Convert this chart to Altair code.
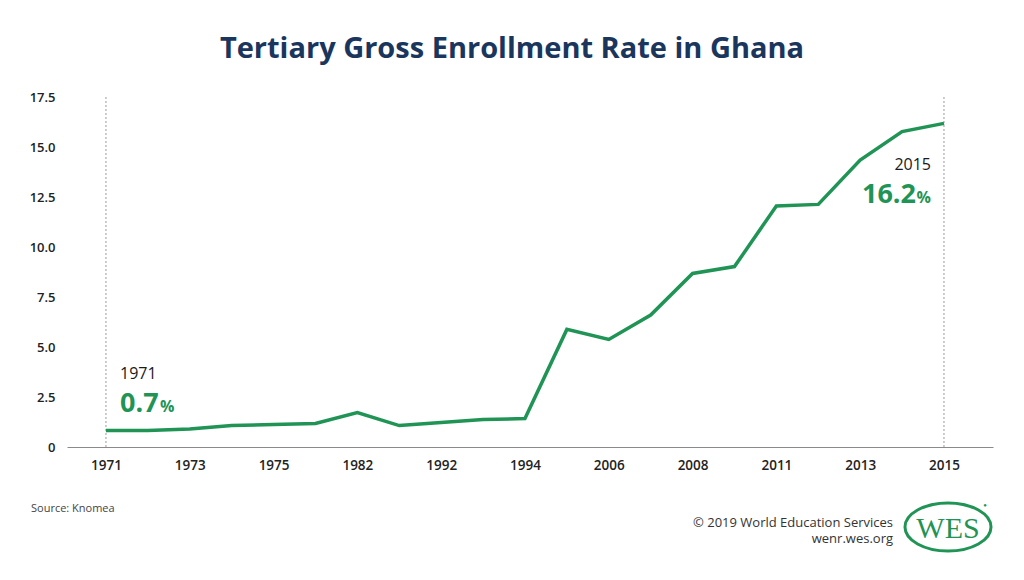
import altair as alt
import pandas as pd

years = ["1971", "1972", "1973", "1974", "1975", "1977", "1982", "1991", "1992", "1993",
         "1994", "1999", "2006", "2007", "2008", "2009", "2011", "2012", "2013", "2014", "2015"]
rates = [0.82, 0.82, 0.9, 1.07, 1.12, 1.18, 1.72, 1.07, 1.23, 1.38,
         1.42, 5.88, 5.38, 6.6, 8.68, 9.02, 12.05, 12.13, 14.35, 15.77, 16.18]
label_years = ["1971", "1973", "1975", "1982", "1992", "1994", "2006", "2008", "2011", "2013", "2015"]
y_ticks = [0, 2.5, 5, 7.5, 10, 12.5, 15, 17.5]
marker_years = ["1971", "2015"]

GREEN = "#1f9455"
NAVY = "#1b365d"
FONT = "Open Sans"

df = pd.DataFrame({"year": years, "rate": rates, "idx": list(range(len(years)))})
markers = pd.DataFrame({"year": marker_years, "idx": [years.index(y) for y in marker_years]})
label_idx = [years.index(y) for y in label_years]
years_js = "[" + ",".join("'%s'" % y for y in years) + "]"

xscale = alt.Scale(domain=[-0.93, 21.17], nice=False, zero=False)
xenc = alt.X("idx:Q", scale=xscale,
             axis=alt.Axis(values=label_idx, labelExpr=years_js + "[datum.value]",
                           ticks=False, title=None, grid=False, labelOverlap=False,
                           labelFlush=False, domainColor="#8a8a8a", labelFont=FONT,
                           labelFontSize=13.5, labelFontWeight=600, labelColor="#222222",
                           labelPadding=11))
yenc = alt.Y("rate:Q", scale=alt.Scale(domain=[0, 17.5], nice=False, zero=True),
             axis=alt.Axis(values=y_ticks, title=None, domain=False, ticks=False, grid=False,
                           labelExpr="datum.value == 0 ? '0' : format(datum.value, '.1f')",
                           labelFont=FONT, labelFontSize=13, labelFontWeight=600,
                           labelColor="#222222", labelPadding=12))

line = alt.Chart(df).mark_line(color=GREEN, strokeWidth=3.5, strokeJoin="miter").encode(
    x=xenc, y=yenc, order="idx:Q")

rules = alt.Chart(markers).mark_rule(color="#9a9a9a", strokeDash=[2, 2], strokeWidth=1).encode(
    x=alt.X("idx:Q", scale=xscale), y=alt.value(0), y2=alt.value(350))

def txt(text, x, y, size, color="#1a1a1a", weight="normal", align="left", font=FONT):
    return alt.Chart(df).transform_filter("datum.year == '1971'").mark_text(
        text=text, fontSize=size, color=color, fontWeight=weight, align=align,
        baseline="alphabetic", font=font).encode(x=alt.value(x), y=alt.value(y))

ELLIPSE = "M -1 0 A 1 0.56 0 1 0 1 0 A 1 0.56 0 1 0 -1 0 Z"

layers = [
    rules, line,
    txt("Tertiary Gross Enrollment Rate in Ghana", 445, -39, 29, NAVY, "bold", "center"),
    txt("1971", 53, 282, 16),
    txt("0.7", 53, 315, 27, GREEN, "bold"),
    txt("%", 93, 315, 16, GREEN, "bold"),
    txt("2015", 864, 73, 16, align="right"),
    txt("%", 864, 106, 16, GREEN, "bold", "right"),
    txt("16.2", 849, 106, 27, GREEN, "bold", "right"),
    txt("Source: Knomea", -36, 415, 11, "#444444"),
    txt("© 2019 World Education Services", 826, 430, 13, "#333333", align="right"),
    txt("wenr.wes.org", 826, 446, 13, "#333333", align="right"),
    txt("WES", 881, 441, 30, GREEN, "normal", "center", "Liberation Serif"),
    txt("●", 918, 410, 6, GREEN, "normal", "center"),
    alt.Chart(df).transform_filter("datum.year == '1971'").mark_point(
        shape=ELLIPSE, filled=False, size=7400, color=GREEN, strokeWidth=3, opacity=1
    ).encode(x=alt.value(881), y=alt.value(430)),
]

chart = alt.layer(*layers).properties(
    width=926, height=350, autosize="none",
    padding={"left": 59, "top": 89, "right": 23, "bottom": 125},
).configure(background="white").configure_view(stroke=None)

chart.save("out.html", embed_options={"renderer": "svg", "actions": False})
